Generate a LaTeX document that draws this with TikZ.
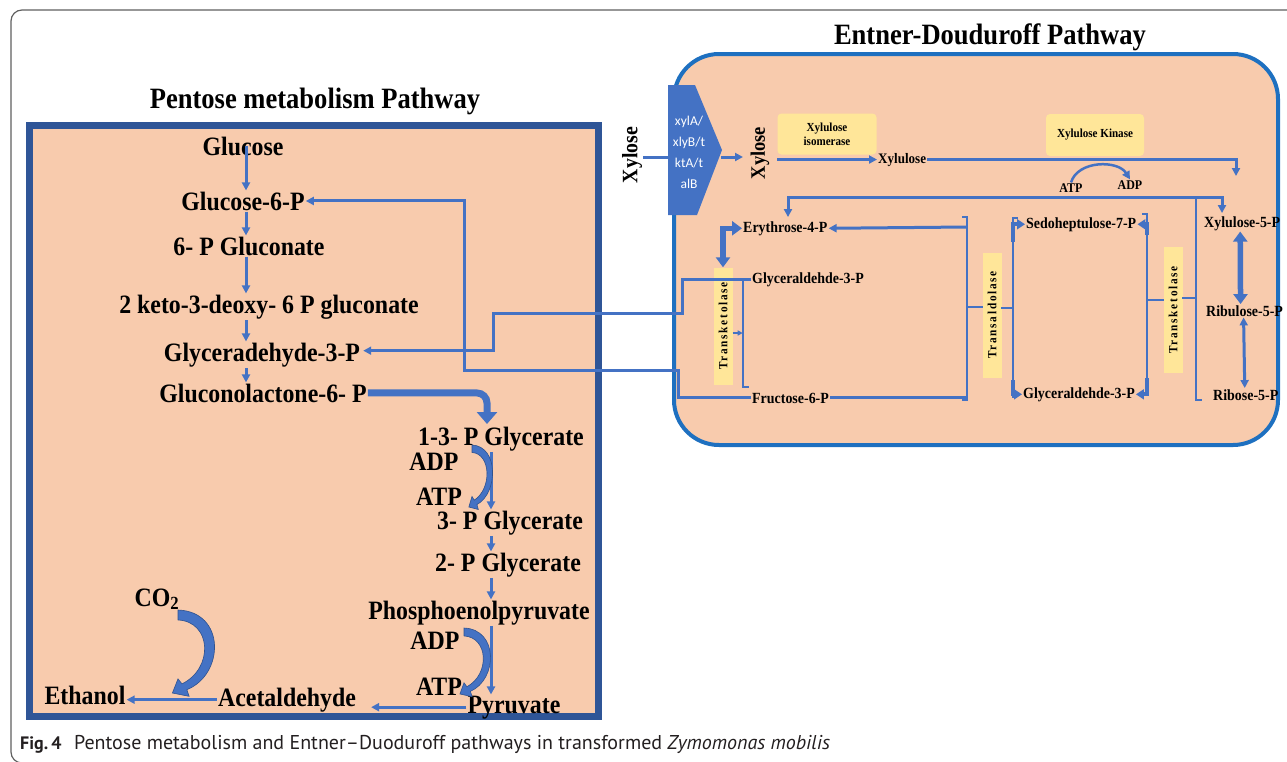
\documentclass[tikz,border=0pt]{standalone}
\usepackage{fontspec}
\setmainfont{Liberation Serif}[FakeStretch=0.9]
\newfontfamily\capfont{PT Sans}
\newfontfamily\enzfont{Carlito}
\usetikzlibrary{arrows.meta,calc}
\definecolor{peach}{HTML}{F8CBAD}
\definecolor{arrblue}{HTML}{4472C4}
\definecolor{arrline}{HTML}{2F528F}
\definecolor{boxnavy}{HTML}{2F5597}
\definecolor{edblue}{HTML}{1E70C0}
\definecolor{enzyel}{HTML}{FFE699}
\definecolor{capgray}{HTML}{231F20}
\definecolor{framegray}{HTML}{606060}

\begin{document}
\begin{tikzpicture}[x=1pt,y=-1pt,>={Triangle[length=8pt,width=8pt]},
  lab/.style={font=\bfseries\fontsize{26.5}{28}\selectfont,inner sep=1pt,anchor=base},
  rlab/.style={font=\bfseries\fontsize{15.5}{17}\selectfont,inner sep=1pt,anchor=base west},
  ttl/.style={font=\bfseries\fontsize{29.5}{32}\selectfont},
  xyl/.style={font=\bfseries\fontsize{22}{24}\selectfont,rotate=90,inner sep=1pt},
  enzbox/.style={fill=enzyel,rounded corners=4pt,inner sep=1pt,align=center,font=\bfseries\fontsize{12.3}{14}\selectfont},
  vbox/.style={fill=enzyel,rotate=90,minimum height=19pt,inner sep=0pt,font=\bfseries\fontsize{12.5}{14}\selectfont\addfontfeature{LetterSpace=14}},
  conn/.style={draw=arrblue,line width=3pt},
  mid/.style={draw=arrblue,line width=4pt,>={Triangle[length=8pt,width=10pt]}},
  fat/.style={draw=arrblue,line width=5.5pt,>={Triangle[length=10pt,width=14pt]}},
  brk/.style={draw=arrblue,line width=1.3pt},
  crescent/.pic={
    \fill[arrblue,draw=arrline,line width=0.6pt] (0,0) .. controls (0.60,0.02) and (0.58,0.78) .. (0.11,0.96)
      -- (0.14,1.04) -- (-0.07,1.0) -- (0.0,0.83) -- (0.05,0.89)
      .. controls (0.45,0.70) and (0.42,0.14) .. (0,0.12) -- cycle;
  }]
\useasboundingbox (0,0) rectangle (1287,761);
\draw[framegray,line width=1.2pt,rounded corners=11pt] (11,10) rectangle (1330,763);

\node[ttl] (ltitle) at (315,101) {Pentose metabolism Pathway};
\draw[boxnavy,line width=7pt,fill=peach] (29.5,125.5) rectangle (598.5,716.5);
\node[ttl] (rtitle) at (990,37) {Entner-Douduroff Pathway};
\draw[edblue,line width=4pt,fill=peach,rounded corners=45pt] (674,54) rectangle (1278,445);

\node[lab] (glc) at (243,155) {Glucose};
\node[lab] (g6p) at (243,210) {Glucose-6-P};
\node[lab] (pg) at (249,255) {6- P Gluconate};
\node[lab] (kdpg) at (269,313) {2 keto-3-deoxy- 6 P gluconate};
\node[lab] (gap) at (262,361) {Glyceradehyde-3-P};
\node[lab] (glac) at (263,402) {Gluconolactone-6- P};
\node[lab] (bpg) at (501,445) {1-3- P Glycerate};
\node[lab,inner sep=0pt] (adpa) at (434,470) {ADP};
\node[lab] (atpa) at (439,505) {ATP};
\node[lab] (pg3) at (510,529) {3- P Glycerate};
\node[lab] (pg2) at (508,571) {2- P Glycerate};
\node[lab] (pep) at (479,619) {Phosphoenolpyruvate};
\node[lab,inner sep=0pt] (adpb) at (435,649) {ADP};
\node[lab] (atpb) at (439,695) {ATP};
\node[lab] (pyr) at (514,713) {Pyruvate};
\node[lab] (acet) at (287,706) {Acetaldehyde};
\node[lab] (etoh) at (85,704) {Ethanol};
\node[lab] (co2) at (157,606) {CO\textsubscript{2}};

\coordinate (cx) at (246,0);
\coordinate (rx) at (491,0);
\draw[conn,->] (glc.center -| cx) -- (g6p.north -| cx);
\draw[conn,->] (g6p.south -| cx) -- (pg.north -| cx);
\draw[conn,->] (pg.south -| cx) -- (kdpg.north -| cx);
\draw[conn,->] (kdpg.south -| cx) -- (gap.north -| cx);
\draw[conn,->] (gap.south -| cx) -- (glac.north -| cx);
\draw[conn,->] (bpg.south -| rx) -- (pg3.north -| rx);
\draw[conn,->] (pg3.south -| rx) -- (pg2.north -| rx);
\draw[conn,->] (pg2.south -| rx) -- (pep.north -| rx);
\draw[conn,->] (pep.south -| rx) -- (pyr.north -| rx);
\draw[conn,->] (pyr.west) -- ($(acet.east |- pyr.west)+(14,0)$);
\draw[conn,->] (acet.west) -- (etoh.east |- acet.west);
\coordinate (bn) at (487,424);
\draw[conn,line width=7pt,rounded corners=10pt,-{Triangle[length=12pt,width=20pt]}] (glac.east) -| (bn);
\pic[xscale=45,yscale=62] at (472,445) {crescent};
\pic[xscale=58,yscale=66] at (464,628) {crescent};
\pic[xscale=80,yscale=83] at (178,610) {crescent};

\node[xyl] (xyla) at (632,155) {Xylose};
\fill[arrblue] (668,85) -- (695,85) -- (722,150) -- (697,215) -- (668,215) -- cycle;
\node[text=white,font=\enzfont\fontsize{13.5}{21}\selectfont,align=center] (enz) at (689,152) {xylA/\\xlyB/t\\ktA/t\\alB};
\coordinate (enzin) at (668,157);
\coordinate (enzout) at (721,157);
\coordinate (xylin) at (743,157);
\node[xyl,font=\bfseries\fontsize{20.5}{22}\selectfont] (xylb) at (760,153) {Xylose};
\node[enzbox,minimum width=99pt,minimum height=41pt] (isom) at (827,134) {Xylulose\\isomerase};
\node[enzbox,minimum width=98pt,minimum height=42pt] (kin) at (1095,135) {Xylulose Kinase};
\node[rlab,font=\bfseries\fontsize{14.5}{16}\selectfont] (xylu) at (877,163) {Xylulose};
\node[font=\bfseries\fontsize{13.3}{15}\selectfont,inner sep=1pt] (atp) at (1071,188) {ATP};
\node[font=\bfseries\fontsize{13.3}{15}\selectfont,inner sep=1pt] (adp) at (1130,185) {ADP};

\node[rlab] (e4p) at (742,232) {Erythrose-4-P};
\node[rlab] (gapa) at (751,283) {Glyceraldehde-3-P};
\node[rlab] (f6p) at (751,403) {Fructose-6-P};
\node[rlab] (s7p) at (1025,228) {Sedoheptulose-7-P};
\node[rlab] (gapb) at (1022,398) {Glyceraldehde-3-P};
\node[rlab] (x5p) at (1203,227) {Xylulose-5-P};
\node[rlab] (ru5p) at (1205,316) {Ribulose-5-P};
\node[rlab] (r5p) at (1212,400) {Ribose-5-P};
\node[vbox,minimum width=117pt] (tka) at (723,326) {Transketolase};
\node[vbox,minimum width=125pt] (tal) at (992,315) {Transaldolase};
\node[vbox,minimum width=126pt] (tkb) at (1173,310) {Transketolase};

\draw[conn] (xyla.south |- enzin) -- (enzin);
\draw[conn,->] (enzout) -- (xylin);
\draw[conn,->] (isom.south west |- xylu.west) -- (xylu.west);
\coordinate (kx) at (1236,176);
\draw[conn,->] (xylu.east) -| (kx);
\draw[conn,line width=2.5pt,->] (atp.north) .. controls (1078,160) and (1118,160) .. (adp.north);
\coordinate (bar) at (1000,197);
\draw[conn,<->] ($(e4p.north west)+(46,-3)$) |- (bar) -| ($(x5p.north west)+(19,-2)$);
\draw[fat,<->] (e4p.west) -| (tka.east);

\coordinate (ga1) at (682,313);
\coordinate (ga2) at (493,313);
\draw[conn,->] (gapa.west) -| (ga1) -- (ga2) |- ($(gap.east)+(2,-4)$);
\coordinate (gb1) at (678,370);
\coordinate (gb2) at (464,370);
\draw[conn,->] (f6p.west) -| (gb1) -- (gb2) |- (g6p.east);

\draw[brk] (749,280) -- (743,280) -- (743,387) -- (749,387);
\draw[brk,->,>={Triangle[length=5pt,width=5pt]}] ($(tka.south)+(0,7)$) -- ($(tka.south)+(10,7)$);
\coordinate (talw) at (967,227);
\draw[conn,->] (talw) -- (e4p.east);
\draw[conn] (f6p.east) -- (f6p.east -| talw);
\draw[brk] (962,217) -- (967,217) -- (967,400) -- (962,400);
\draw[brk] (967,307) -- (983,307);
\draw[brk] (1001,308) -- (1013,308);
\draw[brk] (1018,218) -- (1013,218) -- (1013,398);
\draw[mid,->] (1013,242) |- (s7p.west);
\draw[mid,->] (1013,380) |- (gapb.west);
\draw[brk] (1142,214) -- (1147,214) -- (1147,393);
\draw[brk] (1147,300) -- (1164,300);
\draw[mid,->] (1147,235) |- (s7p.east);
\draw[mid,->] (1147,378) |- (gapb.east);
\draw[brk] (1182,298) -- (1196,298);
\draw[brk] (1196,197) -- (1196,400) -- (1202,400);
\draw[fat,<->] ($(x5p.south)+(-2,0)$) -- ($(ru5p.north)+(-4,0)$);
\draw[conn,<->] ($(ru5p.south)+(-1,0)$) -- ($(r5p.north)+(-1,0)$);

\node[anchor=base west,inner sep=0pt,text=capgray,font=\capfont\fontsize{18}{20}\selectfont] (cap) at (20,749) {\textbf{Fig.\,4}\hspace{0.7em}{\fontsize{20}{22}\selectfont Pentose metabolism and Entner–Duoduroff pathways in transformed \textit{Zymomonas mobilis}}};
\end{tikzpicture}
\end{document}
